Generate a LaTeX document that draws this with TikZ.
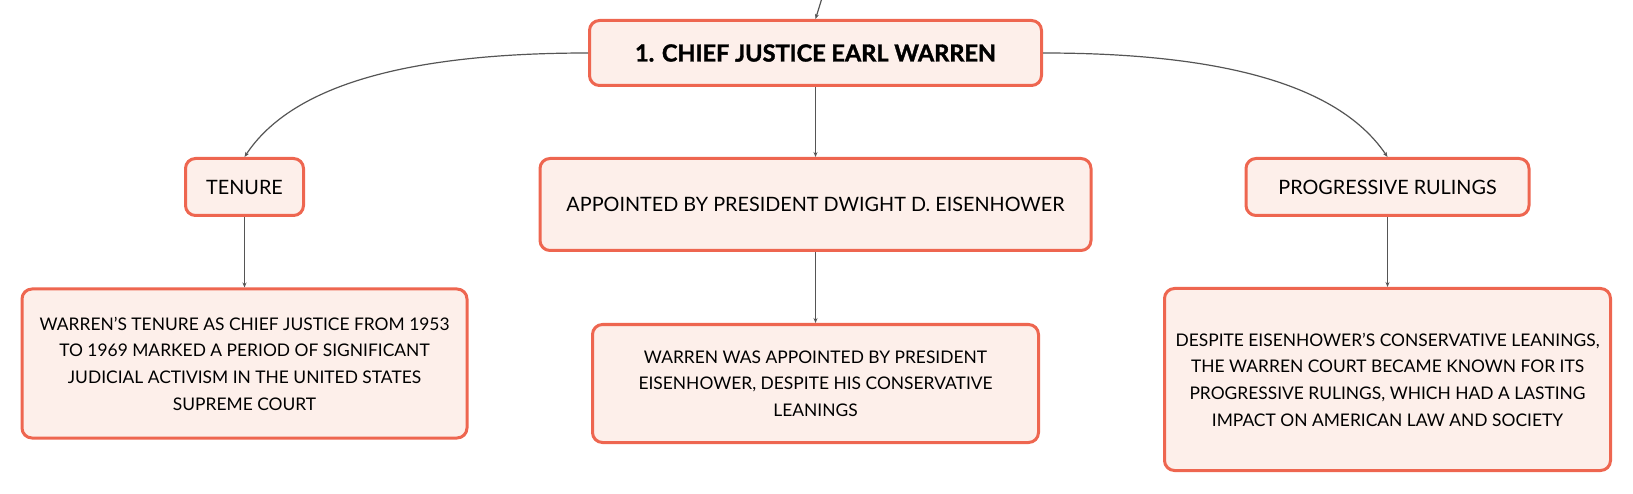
\documentclass[tikz,border=0pt]{standalone}
\usepackage{fontspec}
\setmainfont{Lato}
\newfontfamily\heavyfont{Lato}[BoldFeatures={FakeBold=1.6}]
\usetikzlibrary{arrows.meta}
\definecolor{boxborder}{HTML}{EE6650}
\definecolor{boxfill}{HTML}{FDEFEA}
\definecolor{linkgray}{HTML}{555555}
\tikzset{
  mmbox/.style={draw=boxborder, fill=boxfill, line width=3pt, rounded corners=10pt,
    align=center, inner sep=0pt, text=black},
  bodytext/.style={font=\fontsize{17.4}{26.7}\selectfont},
  labeltext/.style={font=\fontsize{19.8}{26}\selectfont},
  titletext/.style={font=\heavyfont\bfseries\fontsize{23.5}{28}\selectfont},
  link/.style={draw=linkgray, line width=1.2pt, -{Stealth[length=5pt,width=4pt]}}
}
\begin{document}
\begin{tikzpicture}[x=1pt,y=-1pt]
\useasboundingbox (0,0) rectangle (1633,494);
\node[mmbox, titletext, minimum width=452pt, minimum height=65pt] (title) at (815.5,53) {1. CHIEF JUSTICE EARL WARREN};
\node[mmbox, labeltext, minimum width=118pt, minimum height=57pt] (tenure) at (244.5,187) {TENURE};
\node[mmbox, labeltext, minimum width=551pt, minimum height=92pt] (appointed) at (815.5,204.5) {APPOINTED BY PRESIDENT DWIGHT D. EISENHOWER};
\node[mmbox, labeltext, minimum width=283pt, minimum height=57pt] (progressive) at (1387.5,187) {PROGRESSIVE RULINGS};
\node[mmbox, bodytext, minimum width=445pt, minimum height=149pt] (tenuretext) at (244.5,363.5) {WARREN'S TENURE AS CHIEF JUSTICE FROM 1953\\TO 1969 MARKED A PERIOD OF SIGNIFICANT\\JUDICIAL ACTIVISM IN THE UNITED STATES\\SUPREME COURT};
\node[mmbox, bodytext, minimum width=446pt, minimum height=118pt] (appointedtext) at (815.5,383.5) {WARREN WAS APPOINTED BY PRESIDENT\\EISENHOWER, DESPITE HIS CONSERVATIVE\\LEANINGS};
\node[mmbox, bodytext, minimum width=446pt, minimum height=182pt] (progressivetext) at (1387.5,379.5) {DESPITE EISENHOWER'S CONSERVATIVE LEANINGS,\\THE WARREN COURT BECAME KNOWN FOR ITS\\PROGRESSIVE RULINGS, WHICH HAD A LASTING\\IMPACT ON AMERICAN LAW AND SOCIETY};
\coordinate (topin) at (822,-2);
\draw[link] (topin) .. controls (819,8) .. (title.north);
\draw[link] (title.west) .. controls (400,53) and (290,88) .. (tenure.north);
\draw[link] (title.east) .. controls (1231,53) and (1341,88) .. (progressive.north);
\draw[link] (title.south) -- (appointed.north);
\draw[link] (tenure.south) -- (tenuretext.north);
\draw[link] (appointed.south) -- (appointedtext.north);
\draw[link] (progressive.south) -- (progressivetext.north);
\end{tikzpicture}
\end{document}
